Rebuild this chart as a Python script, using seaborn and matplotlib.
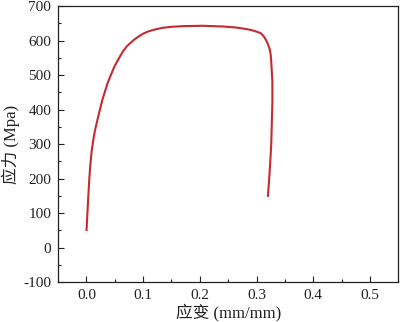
import matplotlib
matplotlib.use('Agg')
import matplotlib.pyplot as plt
import pandas as pd
import seaborn as sns
from matplotlib.ticker import MultipleLocator, FormatStrFormatter

# stress-strain curve
strain = [0.000, 0.0018, 0.0048, 0.0068, 0.0092, 0.0120, 0.0148, 0.021,
          0.028, 0.037, 0.049, 0.057, 0.064, 0.071, 0.078, 0.085, 0.093,
          0.100, 0.108, 0.120, 0.134, 0.150, 0.170, 0.205, 0.240, 0.264,
          0.280, 0.290, 0.296, 0.302, 0.308, 0.313, 0.317, 0.320, 0.323,
          0.325, 0.326, 0.327, 0.328, 0.328, 0.327, 0.326, 0.324, 0.322,
          0.320]
stress = [48, 105, 195, 240, 280, 312, 338, 382,
          428, 476, 524, 548, 568, 583, 594, 604, 613,
          620, 626, 632, 637, 640, 642, 643, 641, 638,
          634, 631, 628, 625, 621, 612, 601, 590, 577,
          560, 539, 510, 481, 420, 360, 300, 240, 190,
          147]

sns.set_style('ticks')
plt.rcParams['font.family'] = ['Liberation Serif', 'Noto Sans CJK SC']
plt.rcParams['axes.unicode_minus'] = False

df = pd.DataFrame({'strain': strain, 'stress': stress})

fig = plt.figure(figsize=(4.01, 3.22), dpi=100)
ax = fig.add_axes([0.145, 0.124, 0.848, 0.857])

sns.lineplot(data=df, x='strain', y='stress', sort=False, estimator=None,
             color='#c42a2e', linewidth=1.5, ax=ax,
             solid_joinstyle='round', solid_capstyle='butt')

ax.set_xlim(-0.05, 0.55)
ax.set_ylim(-100, 700)
ax.xaxis.set_major_locator(MultipleLocator(0.1))
ax.xaxis.set_minor_locator(MultipleLocator(0.05))
ax.xaxis.set_major_formatter(FormatStrFormatter('%.1f'))
ax.yaxis.set_major_locator(MultipleLocator(100))
ax.yaxis.set_minor_locator(MultipleLocator(50))

ax.tick_params(which='both', direction='in', labelsize=11,
               colors='#222222', width=0.8)
ax.tick_params(which='major', length=4, pad=5)
ax.tick_params(which='minor', length=2)
for s in ax.spines.values():
    s.set_linewidth(0.9)
    s.set_color('#222222')

ax.set_xlabel('应变 (mm/mm)', fontsize=12, labelpad=1, color='#222222')
ax.set_ylabel('应力 (Mpa)', fontsize=12, labelpad=2, color='#222222')

fig.savefig('out.png', dpi=100, facecolor='white')
